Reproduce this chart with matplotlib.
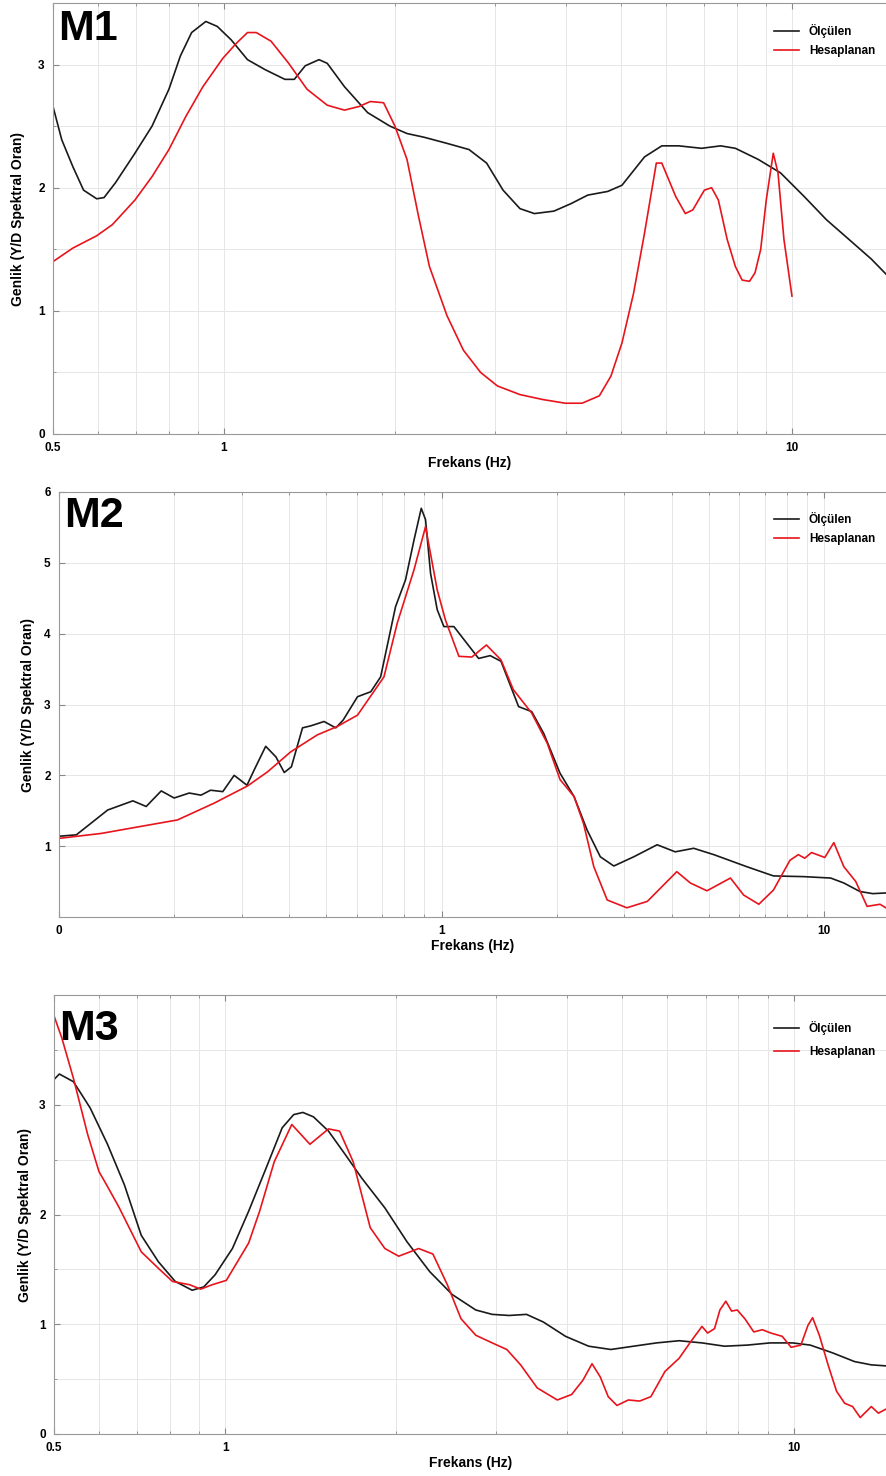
import numpy as np
import matplotlib.pyplot as plt
from matplotlib.ticker import FixedLocator, NullFormatter, MultipleLocator

plt.rcParams['font.family'] = ['Liberation Sans', 'DejaVu Sans']
plt.rcParams['font.weight'] = 'bold'

# ---- M1 ----
m1_olc_f = [0.5, 0.518, 0.542, 0.566, 0.597, 0.615, 0.644, 0.697, 0.747, 0.80, 0.838, 0.877,
            0.929, 0.973, 1.03, 1.10, 1.18, 1.28, 1.33, 1.39, 1.47, 1.52, 1.63, 1.79, 1.96,
            2.10, 2.25, 2.47, 2.70, 2.90, 3.10, 3.32, 3.52, 3.81, 4.08, 4.37, 4.74, 5.02,
            5.50, 5.90, 6.32, 6.93, 7.49, 7.95, 8.72, 9.55, 10.5, 11.5, 12.6, 13.8, 14.7]
m1_olc_a = [2.66, 2.39, 2.17, 1.98, 1.91, 1.92, 2.04, 2.28, 2.50, 2.80, 3.07, 3.26,
            3.35, 3.31, 3.20, 3.04, 2.96, 2.88, 2.88, 2.99, 3.04, 3.01, 2.82, 2.61, 2.50,
            2.44, 2.41, 2.36, 2.31, 2.20, 1.98, 1.83, 1.79, 1.81, 1.87, 1.94, 1.97, 2.02,
            2.25, 2.34, 2.34, 2.32, 2.34, 2.32, 2.23, 2.12, 1.93, 1.74, 1.58, 1.42, 1.29]
m1_hes_f = [0.5, 0.542, 0.597, 0.636, 0.697, 0.747, 0.80, 0.857, 0.918, 0.995, 1.05, 1.10,
            1.14, 1.21, 1.30, 1.40, 1.52, 1.63, 1.73, 1.81, 1.91, 2.00, 2.10, 2.20, 2.30,
            2.47, 2.64, 2.83, 3.03, 3.32, 3.64, 3.99, 4.27, 4.58, 4.80, 5.02, 5.26, 5.50,
            5.77, 5.90, 6.24, 6.49, 6.69, 7.01, 7.22, 7.42, 7.69, 7.95, 8.17, 8.42, 8.61,
            8.81, 9.01, 9.27, 9.45, 9.68, 10.0]
m1_hes_a = [1.40, 1.51, 1.61, 1.70, 1.90, 2.09, 2.31, 2.58, 2.82, 3.05, 3.17, 3.26,
            3.26, 3.19, 3.01, 2.80, 2.67, 2.63, 2.66, 2.70, 2.69, 2.50, 2.23, 1.77, 1.36,
            0.96, 0.68, 0.50, 0.39, 0.32, 0.28, 0.25, 0.25, 0.31, 0.47, 0.74, 1.14, 1.63,
            2.20, 2.20, 1.93, 1.79, 1.82, 1.98, 2.00, 1.90, 1.58, 1.36, 1.25, 1.24, 1.31,
            1.50, 1.90, 2.28, 2.12, 1.58, 1.12]

# ---- M2 ----
m2_olc_f = [0.1, 0.111, 0.121, 0.134, 0.156, 0.169, 0.185, 0.200, 0.219, 0.235, 0.249, 0.268,
            0.287, 0.310, 0.324, 0.347, 0.369, 0.388, 0.405, 0.433, 0.456, 0.493, 0.529,
            0.553, 0.603, 0.653, 0.693, 0.758, 0.805, 0.847, 0.885, 0.908, 0.936, 0.974,
            1.014, 1.077, 1.25, 1.34, 1.43, 1.59, 1.72, 1.85, 2.04, 2.22, 2.40, 2.60, 2.82,
            3.18, 3.66, 4.08, 4.56, 5.15, 6.28, 7.37, 8.83, 10.4, 11.26, 12.4, 13.4, 14.6]
m2_olc_a = [1.14, 1.16, 1.32, 1.51, 1.64, 1.56, 1.78, 1.68, 1.75, 1.72, 1.79, 1.77,
            2.00, 1.86, 2.08, 2.41, 2.26, 2.04, 2.12, 2.67, 2.70, 2.76, 2.67,
            2.78, 3.11, 3.18, 3.39, 4.38, 4.76, 5.32, 5.77, 5.61, 4.85, 4.34,
            4.10, 4.10, 3.65, 3.69, 3.61, 2.97, 2.90, 2.59, 2.03, 1.70, 1.23, 0.85, 0.72,
            0.85, 1.02, 0.92, 0.97, 0.88, 0.71, 0.58, 0.57, 0.55, 0.48, 0.36, 0.33, 0.34]
m2_hes_f = [0.1, 0.129, 0.164, 0.204, 0.255, 0.311, 0.351, 0.403, 0.473, 0.534, 0.603, 0.707,
            0.766, 0.847, 0.908, 0.974, 1.024, 1.11, 1.20, 1.31, 1.43, 1.54, 1.72, 1.89,
            2.04, 2.22, 2.35, 2.50, 2.71, 3.05, 3.45, 4.12, 4.47, 4.94, 5.69, 6.16, 6.75,
            7.37, 8.14, 8.56, 8.9, 9.27, 10.04, 10.6, 11.26, 12.1, 12.95, 14.0, 14.6]
m2_hes_a = [1.11, 1.18, 1.28, 1.37, 1.61, 1.85, 2.05, 2.33, 2.57, 2.69, 2.85, 3.39,
            4.15, 4.90, 5.51, 4.62, 4.19, 3.68, 3.67, 3.84, 3.63, 3.21, 2.88, 2.45,
            1.94, 1.70, 1.32, 0.71, 0.24, 0.13, 0.22, 0.64, 0.48, 0.37, 0.55, 0.31, 0.18,
            0.38, 0.80, 0.88, 0.83, 0.91, 0.84, 1.05, 0.71, 0.50, 0.15, 0.18, 0.12]

# ---- M3 ----
m3_olc_f = [0.5, 0.511, 0.541, 0.579, 0.621, 0.665, 0.712, 0.763, 0.817, 0.875, 0.917, 0.960,
            1.03, 1.10, 1.18, 1.26, 1.32, 1.37, 1.43, 1.52, 1.63, 1.74, 1.91, 2.09, 2.29,
            2.51, 2.76, 2.95, 3.16, 3.39, 3.63, 3.97, 4.36, 4.77, 5.23, 5.74, 6.29, 6.90,
            7.56, 8.29, 9.09, 9.96, 10.7, 11.7, 12.8, 13.7, 14.6]
m3_olc_a = [3.23, 3.28, 3.21, 2.97, 2.64, 2.27, 1.81, 1.57, 1.39, 1.31, 1.34, 1.45,
            1.69, 2.03, 2.42, 2.79, 2.91, 2.93, 2.89, 2.76, 2.54, 2.33, 2.06, 1.75, 1.48,
            1.27, 1.13, 1.09, 1.08, 1.09, 1.02, 0.89, 0.80, 0.77, 0.80, 0.83, 0.85, 0.83,
            0.80, 0.81, 0.83, 0.83, 0.81, 0.74, 0.66, 0.63, 0.62]
m3_hes_f = [0.5, 0.516, 0.541, 0.573, 0.600, 0.614, 0.650, 0.712, 0.763, 0.808, 0.866, 0.906,
            0.949, 1.005, 1.10, 1.15, 1.22, 1.31, 1.41, 1.52, 1.59, 1.68, 1.80, 1.91, 2.02,
            2.19, 2.32, 2.46, 2.60, 2.76, 2.95, 3.13, 3.31, 3.54, 3.84, 4.07, 4.26, 4.42,
            4.57, 4.72, 4.89, 5.12, 5.36, 5.61, 5.94, 6.29, 6.59, 6.90, 7.06, 7.26, 7.42,
            7.60, 7.78, 7.96, 8.21, 8.51, 8.81, 9.12, 9.55, 9.90, 10.3, 10.6, 10.8, 11.1,
            11.5, 11.9, 12.3, 12.7, 13.1, 13.7, 14.1, 14.7]
m3_hes_a = [3.81, 3.61, 3.24, 2.73, 2.39, 2.30, 2.07, 1.66, 1.51, 1.39, 1.36, 1.32,
            1.36, 1.40, 1.74, 2.03, 2.48, 2.82, 2.64, 2.78, 2.76, 2.48, 1.88, 1.69, 1.62,
            1.69, 1.64, 1.36, 1.05, 0.90, 0.83, 0.77, 0.63, 0.42, 0.31, 0.36, 0.49, 0.64,
            0.52, 0.34, 0.26, 0.31, 0.30, 0.34, 0.57, 0.69, 0.84, 0.98, 0.92, 0.96, 1.13,
            1.21, 1.12, 1.13, 1.05, 0.93, 0.95, 0.92, 0.89, 0.79, 0.81, 0.99, 1.06, 0.90,
            0.63, 0.39, 0.28, 0.25, 0.15, 0.25, 0.19, 0.24]

W, H = 887, 1476
fig = plt.figure(figsize=(W / 100, H / 100), dpi=100)


def px_axes(left, top, right, bottom):
    return fig.add_axes([left / W, 1 - bottom / H, (right - left) / W, (bottom - top) / H])


panels = [
    dict(box=(53, 3, 887, 434), name="M1", data=(m1_olc_f, m1_olc_a, m1_hes_f, m1_hes_a),
         xlim=(0.5, 14.7), ylim=(0, 3.5), xt=[0.5, 1, 10], xtl=["0.5", "1", "10"],
         yt=[0, 1, 2, 3], ytl=["0", "1", "2", "3"], half=True, ylab_px=25,
         name_dy=6, leg_dy=9, leg_sp=0.6),
    dict(box=(59, 492, 887, 917), name="M2", data=(m2_olc_f, m2_olc_a, m2_hes_f, m2_hes_a),
         xlim=(0.1, 14.6), ylim=(0, 6), xt=[0.1, 1, 10], xtl=["0", "1", "10"],
         yt=[1, 2, 3, 4, 5, 6], ytl=["1", "2", "3", "4", "5", "6"], half=False, ylab_px=35,
         name_dy=4, leg_dy=8, leg_sp=0.6),
    dict(box=(54, 995, 887, 1434), name="M3", data=(m3_olc_f, m3_olc_a, m3_hes_f, m3_hes_a),
         xlim=(0.5, 14.6), ylim=(0, 4), xt=[0.5, 1, 10], xtl=["0.5", "1", "10"],
         yt=[0, 1, 2, 3], ytl=["0", "1", "2", "3"], half=True, ylab_px=32,
         name_dy=14, leg_dy=14, leg_sp=0.95),
]

for p in panels:
    left, top, right, bottom = p["box"]
    aw, ah = right - left, bottom - top
    ax = px_axes(*p["box"])
    of, oa, hf, ha = p["data"]
    ax.plot(of, oa, color="#1a1a1a", lw=1.2, label="Ölçülen")
    ax.plot(hf, ha, color="#e8141c", lw=1.2, label="Hesaplanan")
    ax.set_xscale("log")
    ax.set_xlim(*p["xlim"])
    ax.set_ylim(*p["ylim"])
    ax.xaxis.set_major_locator(FixedLocator(p["xt"]))
    ax.set_xticklabels(p["xtl"])
    ax.xaxis.set_minor_locator(FixedLocator(
        [m * 10.0 ** e for e in (-1, 0, 1) for m in range(2, 10)]))
    ax.xaxis.set_minor_formatter(NullFormatter())
    ax.set_yticks(p["yt"])
    ax.set_yticklabels(p["ytl"])
    if p["half"]:
        ax.yaxis.set_minor_locator(MultipleLocator(0.5))
    ax.grid(True, which="major", color="#e6e6e6", lw=0.7)
    ax.grid(True, which="minor", axis="x", color="#e6e6e6", lw=0.7)
    if p["half"]:
        ax.grid(True, which="minor", axis="y", color="#e6e6e6", lw=0.7)
    ax.set_axisbelow(True)
    ax.tick_params(which="both", direction="in", top=True, right=False,
                   labelsize=8.5, color="#888888", length=4, pad=6)
    ax.tick_params(which="minor", length=2.5)
    for lab in ax.get_xticklabels() + ax.get_yticklabels():
        lab.set_fontweight("bold")
    for s in ["left", "bottom", "top"]:
        ax.spines[s].set_color("#999999")
    ax.spines["right"].set_visible(False)
    ax.set_xlabel("Frekans (Hz)", fontsize=10, fontweight="bold", labelpad=1)
    ax.set_ylabel("Genlik (Y/D Spektral Oran)", fontsize=10, fontweight="bold")
    ax.yaxis.set_label_coords((p["ylab_px"] - left) / aw, 0.5)
    ax.text(5 / aw, 1 - p["name_dy"] / ah, p["name"], transform=ax.transAxes, fontsize=31,
            fontweight="bold", va="top", ha="left")
    ax.legend(loc="upper right", bbox_to_anchor=(1, 1 - p["leg_dy"] / ah), frameon=False,
              handlelength=2.2, prop=dict(weight="bold", size=8.5), borderaxespad=0.6,
              labelspacing=p["leg_sp"])

fig.savefig("out.png", dpi=100)
